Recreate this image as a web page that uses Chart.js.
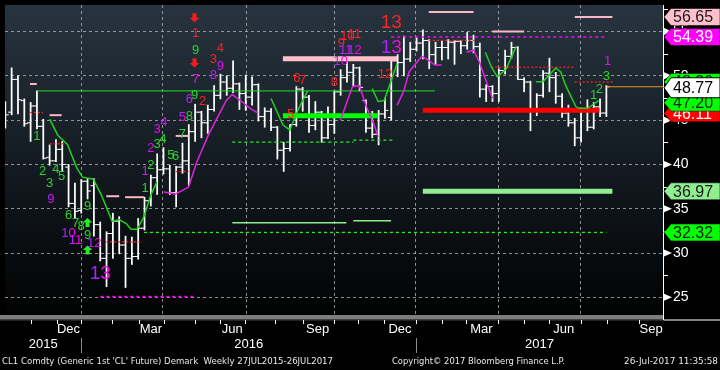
<!DOCTYPE html>
<html><head><meta charset="utf-8">
<script src="https://cdn.jsdelivr.net/npm/chart.js@4.4.1/dist/chart.umd.min.js"></script>
<style>html,body{margin:0;padding:0;background:#000;overflow:hidden}#wrap{width:720px;height:370px}</style>
</head><body><div id="wrap"><canvas id="c" width="720" height="370" style="width:720px;height:370px"></canvas></div>
<script>
// ---- weekly OHLC (week index 0 = week ending 2 Oct 2015) ----
const opens  = [45.3,45.9,49.6,47.2,44.7,46.6,44.3,40.8,40.4,41.7,39.7,35.6,34.8,38.1,37.6,33.2,29.4,32.2,33.6,30.9,29.4,29.6,32.8,35.9,38.5,39.4,39.5,36.8,39.7,40.4,43.7,45.9,44.7,46.2,47.8,49.3,48.6,49.1,48.0,47.6,49.0,45.4,46.0,44.2,41.6,41.8,44.5,48.5,47.6,44.4,45.9,43.0,44.5,48.2,49.8,50.4,50.9,47.2,44.1,43.4,45.7,45.3,51.7,51.5,51.9,53.0,53.7,54.0,52.4,53.2,53.2,53.8,53.9,53.4,54.0,53.3,48.5,48.8,48.0,50.6,52.2,53.2,49.6,49.3,46.2,47.8,50.3,49.8,47.7,45.8,44.7,43.0,46.0,44.2,46.5,45.8];
const highs  = [47.1,50.9,50.0,47.4,47.0,48.3,45.1,42.2,42.8,42.6,40.0,37.9,38.3,38.4,38.4,33.5,32.4,34.5,34.1,31.9,31.8,33.9,36.3,38.8,41.2,41.9,39.9,39.8,42.4,44.5,46.8,46.0,46.7,48.9,50.2,50.0,51.7,49.2,50.1,49.9,49.1,46.4,46.3,44.3,42.5,44.5,48.8,48.7,47.8,47.1,46.0,46.5,48.3,50.7,51.6,51.3,51.0,47.3,46.0,46.1,47.5,51.8,52.4,54.5,53.8,54.3,55.2,54.1,53.8,54.0,54.1,54.0,54.0,54.9,54.6,53.7,49.0,48.9,50.8,52.9,53.8,53.3,49.8,49.4,48.0,50.6,52.0,50.4,48.0,46.7,45.2,46.3,47.3,47.0,47.4,48.9];
const lows   = [44.1,45.6,45.7,44.3,42.6,44.0,40.6,39.9,40.3,39.2,35.2,34.0,34.5,36.1,31.9,29.1,26.2,29.4,29.9,26.1,28.7,29.3,32.6,35.3,36.6,38.9,36.6,35.2,39.0,37.6,42.6,43.0,43.5,46.0,47.4,47.8,48.1,46.2,46.1,46.7,44.9,44.2,43.8,40.6,39.2,41.5,44.3,46.0,43.6,43.9,42.5,42.9,43.5,47.8,49.3,48.9,48.3,43.6,43.0,42.2,45.2,45.0,49.9,50.0,51.6,52.8,51.9,50.8,51.3,51.8,51.9,51.3,52.5,53.0,52.6,47.6,47.1,47.1,47.1,50.2,52.0,49.6,48.2,43.8,45.5,47.6,48.2,46.9,45.3,44.3,42.1,42.5,43.8,44.0,45.4,45.4];
const closes = [45.6,49.6,47.3,44.6,46.6,44.3,40.7,40.4,41.7,40.0,35.6,34.7,38.1,37.0,33.2,29.4,32.2,33.6,30.9,29.4,29.6,32.8,35.9,38.5,39.4,39.5,36.8,39.7,40.4,43.7,45.9,44.7,46.2,47.8,49.3,48.6,49.1,48.0,47.6,49.0,45.4,46.0,44.2,41.6,41.8,44.5,48.5,47.6,44.4,45.9,43.0,44.5,48.2,49.8,50.4,50.9,48.7,44.1,43.4,45.7,46.1,51.7,51.5,51.9,53.0,53.7,54.0,52.4,53.2,53.2,53.8,53.9,53.4,54.0,53.3,48.5,48.8,48.0,50.6,52.2,53.2,49.6,49.3,46.2,47.8,50.3,49.8,47.7,45.8,44.7,43.0,46.0,44.2,46.5,45.8,48.77];

// ---- axis ticks (in week-index units) ----
const xMin = -0.05, xMax = 103.95;
const quarterGrid = [12.03, 24.89, 38.07, 52.03, 64.89, 77.91, 90.93];
const yearBoundaries = [12.03, 64.89];
const monthLabels = ['Dec','Mar','Jun','Sep','Dec','Mar','Jun','Sep'];
const monthLabelPos = [9.99, 23.01, 35.87, 49.36, 62.38, 75.25, 88.26, 102.07];
const monthStartTicks = [4.03,8.11,12.03,16.94,21.13,25.05,30.02,33.94,37.86,42.57,47.01,51.98,55.79,59.82,64.94,68.97,72.89,77.86,82.04,85.96,90.93,95.12,100.08];
const yearLabels = ['2015','2016','2017'];
const priceTicks = [25,30,35,40,45,50,55];
const priceMinorTicks = [27.5,32.5,37.5,42.5,47.5,52.5,57.5];

// ---- DeMark lines: [weekIndex, price] ----
const greenTrend = [
  [[7.01,45.11],[8.27,43.33],[9.84,42.22],[11.25,39.67],[12.19,38.56],[13.91,38.33],[15.17,36.56],[16.89,33.56],[17.99,33.78],[19.09,33.33],[19.87,32.67],[20.82,32.67],[21.91,34.11],[23.01,36.56],[23.95,38.0]],
  [[42.0,47.44],[43.88,44.44],[44.97,43.89],[46.23,46.11],[47.8,48.33]],
  [[57.99,48.56],[58.93,47.11],[59.87,47.22],[60.82,49.11],[61.9,51.33]],
  [[75.87,52.67],[76.82,51.0],[77.76,49.89],[79.17,50.78],[80.74,53.33]],
  [[83.87,49.33],[84.97,49.33],[87.0,50.89],[87.79,50.44],[88.58,48.89],[90.15,46.56],[90.62,46.33],[92.03,46.33],[93.76,47.20]]
];
const magentaTrend = [
  [[25.05,36.89],[26.93,36.67],[28.97,37.44],[30.23,40.22],[32.1,43.33],[34.93,47.22],[35.87,47.89],[37.13,47.22],[38.7,46.33],[39.95,45.78]],
  [[52.97,45.0],[54.86,48.78],[55.95,48.89],[57.05,46.56],[58.31,44.44],[58.93,43.11]],
  [[61.91,46.67],[63.01,48.33],[63.8,50.44],[65.83,52.22],[67.09,51.67],[67.87,51.22],[68.97,51.22]],
  [[72.89,52.67],[74.0,52.89],[74.93,51.56],[76.03,49.33],[77.0,47.44]]
];

// ---- level segments: [startIndex, endIndex, price] ----
const riskLevels      = [[3.9,4.97,49.08],[7.0,8.9,45.56],[15.95,18.0,36.41],[18.93,21.91,36.3],[26.93,28.97,43.22],[66.93,74.0,57.22],[76.97,82.0,55.0],[90.0,95.95,56.65]];
const tdstSell        = [[43.87,61.91,51.94]];
const tdstBuyGreen    = [[43.87,58.93,45.5]];
const tdstBuyRed      = [[65.99,93.9,46.11]];
const supportThick    = [[65.99,95.95,36.97]];
const supportThin     = [[35.87,53.91,33.41],[55.01,60.97,33.63]];
const setupTrendLine  = [[4.97,67.87,48.30]];
const greenDashLevels = [[21.91,95.0,32.32],[35.87,55.01,42.52],[55.01,61.6,42.74]];
const redDotLevels    = [[3.87,5.91,45.86],[7.01,9.83,42.33],[15.95,21.6,31.26],[26.93,28.97,39.19],[66.93,74.46,54.0],[76.81,90.0,50.97],[90.0,96.1,49.3]];
const magentaDotLevels= [[61.0,95.0,54.39],[15.01,29.76,25.08]];
const lastPriceLine   = [[95,103.95,48.77]];

// ---- DeMark counts: [text, weekIndex, price, kind] ----
const counts = [
 ['1',30.07,54.78,'sell'],['9',30.07,52.89,'buy'],['7',30.07,49.56,'cd'],['4',34.0,53.11,'sell'],['3',32.9,51.89,'sell'],
 ['9',34.0,51.11,'cd'],['8',32.9,50.0,'cd'],['6',29.1,47.33,'cd'],['9',29.9,47.78,'buy'],['2',31.2,47.11,'sell'],
 ['5',28.0,45.33,'cd'],['8',29.1,45.44,'buy'],['3',24.0,44.0,'cd'],['4',25.05,44.78,'cd'],['7',28.0,43.44,'buy'],
 ['1',4.97,43.11,'buy'],['2',23.0,41.78,'cd'],['3',24.0,42.22,'buy'],['4',24.9,42.78,'buy'],['5',26.15,41.0,'buy'],
 ['6',26.9,40.89,'buy'],['2',5.9,39.22,'buy'],['4',8.0,39.44,'buy'],['3',7.0,37.89,'buy'],['5',8.9,38.67,'buy'],
 ['9',7.2,36.0,'cd'],['1',22.1,39.22,'cd'],['2',23.0,39.89,'buy'],['1',22.1,37.33,'buy'],['9',13.0,35.22,'buy'],
 ['6',10.0,34.22,'buy'],['7',11.1,33.33,'buy'],['8',12.0,33.0,'buy'],['9',13.0,32.0,'buy'],['10',10.0,32.22,'cd'],
 ['11',11.1,31.44,'cd'],['12',14.07,31.11,'cd'],['13',15.0,27.67,'cd'],['13',61.0,56.0,'sell'],['9',53.1,53.67,'sell'],
 ['10',54.1,54.44,'sell'],['11',55.2,54.67,'sell'],['11',53.8,52.89,'cd'],['12',55.2,52.89,'cd'],['10',53.0,51.67,'cd'],
 ['13',61.0,53.22,'cd'],['12',60.0,50.11,'sell'],['6',46.1,49.67,'sell'],['7',47.0,49.44,'sell'],['8',52.0,49.22,'sell'],
 ['5',45.1,45.67,'sell'],['1',95.2,51.67,'cd'],['3',95.0,49.89,'buy'],['2',93.9,48.44,'buy'],['1',93.0,47.78,'buy']
];
const arrows = [[29.9,56.56,'down'],[29.9,51.44,'down'],[13.0,33.44,'up'],[13.0,30.33,'up']];

// ---- right-hand value tags ----
const tagValues = [56.65, 54.39, 36.97, 32.32, 46.11, 47.20, 48.30, 48.77];
const tagKinds  = ['risk','cdLevel','support','dash','red','green','green','last'];

// ================= drawing =================
const FONT = '"Liberation Sans", Arial, sans-serif';
const tagStyle = {
  risk:{bg:'#ffc0cb',fg:'#1a1a1a'}, cdLevel:{bg:'#ff00ff',fg:'#ffffff'}, support:{bg:'#90ee90',fg:'#1a1a1a'},
  dash:{bg:'#00ff00',fg:'#1a1a1a'}, red:{bg:'#ff0000',fg:'#ffffff'}, green:{bg:'#00ff00',fg:'#1a1a1a'},
  last:{bg:'#ffffff',fg:'#000000',stroke:'#000'}
};
const tagNudge = {'46.11':3, '47.20':2, '48.30':-9, '48.77':1};
const countColor = {sell:'#ff2222', buy:'#2bd42b'};

function segDatasets(list, style, order) {
  return list.map(s => Object.assign({
    type:'line', data:[{x:s[0],y:s[2]},{x:s[1],y:s[2]}], pointRadius:0, fill:false, tension:0,
    borderCapStyle:'butt', order: order
  }, style));
}
function curveDatasets(list, color, order) {
  return list.map(c => ({type:'line', data:c.map(p=>({x:p[0],y:p[1]})), borderColor:color, borderWidth:1.5,
    pointRadius:0, fill:false, tension:0, order:order}));
}

const datasets = [
  {type:'bar', data: highs.map((h,i)=>({x:i, y:[lows[i], h]})), backgroundColor:'#ffffff', borderWidth:0,
   barThickness:1.1, borderSkipped:false, order:100},
  {type:'line', showLine:false, data: opens.map((v,i)=>({x:i,y:v})), pointStyle:'dash', rotation:180, pointRadius:3.5,
   pointBorderColor:'#ffffff', pointBorderWidth:1, order:99},
  {type:'line', showLine:false, data: closes.map((v,i)=>({x:i,y:v})), pointStyle:'dash', rotation:0, pointRadius:3.5,
   pointBorderColor:'#ffffff', pointBorderWidth:1, order:99},
  ...segDatasets(setupTrendLine, {borderColor:'#22dd22', borderWidth:1}, 60),
  ...segDatasets(riskLevels, {borderColor:'#ffb6c8', borderWidth:2}, 55),
  ...segDatasets(supportThin, {borderColor:'#90ee90', borderWidth:1.5}, 55),
  ...segDatasets(greenDashLevels, {borderColor:'#22ee22', borderWidth:1.3, borderDash:[3,3]}, 55),
  ...segDatasets(redDotLevels, {borderColor:'#ff2020', borderWidth:1.3, borderDash:[2,2]}, 55),
  ...segDatasets(magentaDotLevels, {borderColor:'#ff00ff', borderWidth:1.5, borderDash:[3,3]}, 55),
  ...segDatasets(lastPriceLine, {borderColor:'#e8941e', borderWidth:1}, 55),
  ...segDatasets(tdstSell, {borderColor:'#ffc0cb', borderWidth:5}, 50),
  ...segDatasets(tdstBuyGreen, {borderColor:'#00ff00', borderWidth:5}, 50),
  ...segDatasets(tdstBuyRed, {borderColor:'#ff0000', borderWidth:5}, 50),
  ...segDatasets(supportThick, {borderColor:'#90ee90', borderWidth:5}, 50),
  ...curveDatasets(greenTrend, '#1fcf1f', 40),
  ...curveDatasets(magentaTrend, '#e020e0', 40)
];

function drawArrow(ctx, x, y, dir, color) {
  const s = dir === 'down' ? 1 : -1;
  ctx.fillStyle = color;
  ctx.beginPath();
  ctx.moveTo(x-2, y-4.5*s); ctx.lineTo(x+2, y-4.5*s); ctx.lineTo(x+2, y); ctx.lineTo(x+4.8, y);
  ctx.lineTo(x, y+4.5*s); ctx.lineTo(x-4.8, y); ctx.lineTo(x-2, y); ctx.closePath(); ctx.fill();
}
function drawTag(ctx, y, h, st, text) {
  ctx.beginPath();
  ctx.moveTo(664, y); ctx.lineTo(671, y-h/2); ctx.lineTo(720, y-h/2); ctx.lineTo(720, y+h/2); ctx.lineTo(671, y+h/2); ctx.closePath();
  ctx.fillStyle = st.bg; ctx.fill();
  ctx.lineWidth = 1; ctx.strokeStyle = st.stroke || 'rgba(0,0,0,0.55)'; ctx.stroke();
  ctx.fillStyle = st.fg; ctx.font = '16px ' + FONT; ctx.textAlign = 'left'; ctx.textBaseline = 'middle';
  ctx.fillText(text, 673, y + 1, 42);
}

const decor = {
  id:'decor',
  beforeDraw(chart) {
    const {ctx, chartArea:a} = chart;
    ctx.save();
    ctx.fillStyle = '#000'; ctx.fillRect(0,0,chart.width,chart.height);
    const g = ctx.createLinearGradient(0,a.top,0,a.bottom);
    g.addColorStop(0,'#27343f'); g.addColorStop(0.5,'#141b22'); g.addColorStop(1,'#010202');
    ctx.fillStyle = g; ctx.fillRect(a.left,a.top,a.right-a.left,a.bottom-a.top);
    ctx.restore();
  },
  afterDatasetsDraw(chart) {
    const {ctx} = chart, xs = chart.scales.x, ys = chart.scales.y;
    ctx.save();
    ctx.beginPath(); ctx.rect(chart.chartArea.left, chart.chartArea.top, chart.chartArea.right-chart.chartArea.left, chart.chartArea.bottom-chart.chartArea.top); ctx.clip();
    arrows.forEach(a => drawArrow(ctx, xs.getPixelForValue(a[0]), ys.getPixelForValue(a[1]), a[2], a[2]==='down' ? '#ff1a1a' : '#22ee22'));
    ctx.textAlign = 'center'; ctx.textBaseline = 'middle';
    counts.forEach(c => {
      const x = xs.getPixelForValue(c[1]), y = ys.getPixelForValue(c[2]);
      const big = c[0] === '13';
      ctx.font = (big ? '19px ' : '13px ') + FONT;
      if (c[3] === 'cd') {
        const w = ctx.measureText(c[0]).width;
        const gr = ctx.createLinearGradient(x - w/2, 0, x + w/2, 0);
        gr.addColorStop(0, '#7a30ff'); gr.addColorStop(0.45, '#d414f8'); gr.addColorStop(1, '#ff00e0');
        ctx.fillStyle = gr;
      } else ctx.fillStyle = countColor[c[3]];
      ctx.fillText(c[0], x, y);
    });
    ctx.restore();
  },
  afterDraw(chart) {
    const {ctx, chartArea:a} = chart, xs = chart.scales.x, ys = chart.scales.y;
    ctx.save();
    // bottom strip
    ctx.fillStyle = '#7d7d7d'; ctx.fillRect(0, a.bottom, a.right, 4.5);
    ctx.fillStyle = '#3c4a3c'; ctx.fillRect(0, a.bottom+4.5, a.right, 1);
    ctx.strokeStyle = '#ffffff'; ctx.lineWidth = 1;
    ctx.beginPath(); ctx.moveTo(a.right+0.5, a.top); ctx.lineTo(a.right+0.5, a.bottom+5); ctx.lineTo(720, a.bottom+5); ctx.stroke();
    // month ticks
    ctx.beginPath();
    monthStartTicks.forEach(v => { const x = Math.round(xs.getPixelForValue(v))+0.5; ctx.moveTo(x, a.bottom+5); ctx.lineTo(x, a.bottom+9); });
    ctx.stroke();
    // year separators
    ctx.strokeStyle = '#8a8a8a';
    ctx.beginPath();
    yearBoundaries.forEach(v => { const x = Math.round(xs.getPixelForValue(v))+0.5; ctx.moveTo(x, 338); ctx.lineTo(x, 353); });
    ctx.stroke();
    // y axis markers
    ctx.fillStyle = '#ffffff';
    priceTicks.forEach(v => { const y = ys.getPixelForValue(v); ctx.beginPath(); ctx.moveTo(664, y-3.5); ctx.lineTo(664, y+3.5); ctx.lineTo(672, y); ctx.closePath(); ctx.fill(); });
    ctx.strokeStyle = '#ffffff'; ctx.beginPath();
    priceMinorTicks.forEach(v => { const y = Math.round(ys.getPixelForValue(v))+0.5; ctx.moveTo(663, y); ctx.lineTo(668, y); });
    ctx.stroke();
    // value tags
    tagValues.forEach((v,i) => {
      const k = tagKinds[i];
      const y = ys.getPixelForValue(v) + (tagNudge[v.toFixed(2)] || 0);
      drawTag(ctx, y, k === 'last' ? 20 : 17, tagStyle[k], v.toFixed(2));
    });
    // footer
    ctx.fillStyle = '#e8e8e8'; ctx.font = '9px "DejaVu Sans", sans-serif'; ctx.textBaseline = 'middle'; ctx.textAlign = 'left';
    ctx.fillText("CL1 Comdty (Generic 1st 'CL' Future) Demark  Weekly 27JUL2015-26JUL2017", 2, 362, 331);
    ctx.fillText('Copyright\u00A9 2017 Bloomberg Finance L.P.', 392, 362, 173);
    ctx.fillText('26-Jul-2017 11:35:58', 624, 362, 94);
    ctx.restore();
  }
};

function noPad(s) { s.paddingLeft = 0; s.paddingRight = 0; s.paddingTop = 0; s.paddingBottom = 0; }
const gridColor = 'rgba(175,175,175,0.8)';
new Chart(document.getElementById('c'), {
  type:'bar',
  data:{datasets},
  plugins:[decor],
  options:{
    responsive:false, animation:false, devicePixelRatio:1, events:[],
    layout:{padding:{left:0,right:0,top:0,bottom:15}},
    plugins:{legend:{display:false}, tooltip:{enabled:false}},
    scales:{
      x:{type:'linear', position:'bottom', min:xMin, max:xMax, offset:false, weight:0,
         grid:{display:true, color:gridColor, lineWidth:1, drawTicks:false, offset:false},
         border:{display:false, dash:[3,3]}, ticks:{display:false},
         afterBuildTicks:s=>{ s.ticks = quarterGrid.map(v=>({value:v})); },
         afterFit:s=>{ s.height = 0; noPad(s); }},
      xm:{type:'linear', position:'bottom', min:xMin, max:xMax, offset:false, weight:1,
         grid:{display:false, drawTicks:false}, border:{display:false},
         ticks:{color:'#ffffff', font:{family:FONT, size:13}, padding:7, maxRotation:0, autoSkip:false,
                callback:(v,i)=>monthLabels[i]},
         afterBuildTicks:s=>{ s.ticks = monthLabelPos.map(v=>({value:v})); },
         afterFit:s=>{ s.height = 22; noPad(s); }},
      xy:{type:'linear', position:'bottom', min:xMin, max:xMax, offset:false, weight:2,
         grid:{display:false, drawTicks:false}, border:{display:false},
         ticks:{color:'#ffffff', font:{family:FONT, size:13}, padding:0, maxRotation:0, autoSkip:false,
                callback:(v,i)=>yearLabels[i]},
         afterBuildTicks:s=>{ const b=[xMin, ...yearBoundaries, xMax]; s.ticks = yearLabels.map((_,i)=>({value:(b[i]+b[i+1])/2})); },
         afterFit:s=>{ s.height = 18; noPad(s); }},
      y:{type:'linear', position:'right', min:23, max:58,
         grid:{display:true, color:gridColor, lineWidth:1, drawTicks:false},
         border:{display:true, color:'#ffffff', width:1, dash:[3,3]},
         ticks:{color:'#ffffff', font:{family:FONT, size:14}, padding:10},
         afterBuildTicks:s=>{ s.ticks = priceTicks.map(v=>({value:v})); },
         afterFit:s=>{ s.width = 57; noPad(s); }}
    }
  }
});
</script></body></html>
